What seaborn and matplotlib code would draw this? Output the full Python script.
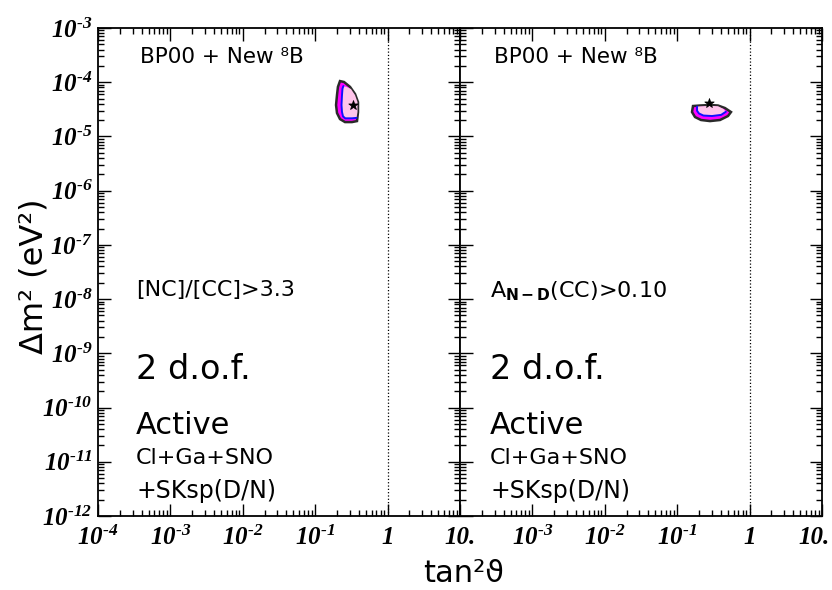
import numpy as np
import pandas as pd
import matplotlib
matplotlib.use('Agg')
import matplotlib.pyplot as plt
import matplotlib.transforms as mtrans
import seaborn as sns

# Allowed regions (tan^2 theta, dm^2 in eV^2)
# left panel: [NC]/[CC] > 3.3
left_outer_x = [0.220, 0.250, 0.303, 0.355, 0.390, 0.390, 0.378, 0.322, 0.258, 0.220, 0.200, 0.194, 0.200, 0.206]
left_outer_y = [1.05e-4, 1.01e-4, 8.2e-5, 6.05e-5, 4.3e-5, 2.8e-5, 1.92e-5, 1.84e-5, 1.84e-5, 2.09e-5, 2.7e-5, 3.8e-5, 5.8e-5, 8.2e-5]
left_inner_x = [0.2450, 0.2720, 0.3122, 0.3545, 0.3839, 0.3839, 0.3718, 0.3224, 0.2600, 0.2421, 0.2345, 0.2308, 0.2345, 0.2380]
left_inner_y = [8.5e-5, 8.2e-5, 7.49e-5, 5.80e-5, 4.31e-5, 2.82e-5, 2.2e-5, 2.16e-5, 2.16e-5, 2.35e-5, 2.82e-5, 3.8e-5, 5.80e-5, 7.6e-5]
left_blue_from = 6
left_best = (0.333, 3.8e-5)

# right panel: A_N-D(CC) > 0.10
right_outer_x = [0.1653, 0.2065, 0.2838, 0.3661, 0.4572, 0.5534, 0.5032, 0.3902, 0.2838, 0.2132, 0.1762, 0.1601]
right_outer_y = [3.64e-5, 3.72e-5, 3.80e-5, 3.72e-5, 3.34e-5, 2.82e-5, 2.38e-5, 2.01e-5, 1.92e-5, 2.01e-5, 2.28e-5, 2.82e-5]
right_inner_x = [0.1880, 0.2838, 0.3661, 0.4350, 0.4700, 0.4050, 0.3024, 0.2300, 0.2000, 0.1880]
right_inner_y = [3.56e-5, 3.67e-5, 3.61e-5, 3.22e-5, 2.85e-5, 2.50e-5, 2.38e-5, 2.43e-5, 2.65e-5, 2.98e-5]
right_blue_from = 4
right_best = (0.275, 4.13e-5)

x_ticks = [1e-4, 1e-3, 1e-2, 1e-1, 1, 10]
x_labels = ['$10^{\u2010%d}$' % k for k in (4, 3, 2, 1)] + ['1', '10.']
y_ticks = [10.0 ** k for k in range(-12, -2)]
y_labels = ['$10^{\u2010%d}$' % -k for k in range(-12, -2)]

sns.set_style('ticks')
plt.rcParams['font.family'] = ['DejaVu Sans']
plt.rcParams['text.color'] = 'black'
plt.rcParams['xtick.color'] = 'black'
plt.rcParams['ytick.color'] = 'black'
plt.rcParams['mathtext.fontset'] = 'custom'
plt.rcParams['mathtext.rm'] = 'Liberation Serif:bold:italic'
plt.rcParams['mathtext.it'] = 'Liberation Serif:bold:italic'
plt.rcParams['mathtext.bf'] = 'Liberation Serif:bold:italic'
plt.rcParams['mathtext.sf'] = 'DejaVu Sans:bold'

fig = plt.figure(figsize=(8.32, 5.90), dpi=100)
ax1 = fig.add_axes([98 / 832, 74 / 590, 362 / 832, 488 / 590])
ax2 = fig.add_axes([460 / 832, 74 / 590, 362 / 832, 488 / 590])

panels = [
    (ax1, left_outer_x, left_outer_y, left_inner_x, left_inner_y, left_blue_from,
     left_best, '[NC]/[CC]>3.3', 0.105),
    (ax2, right_outer_x, right_outer_y, right_inner_x, right_inner_y, right_blue_from,
     right_best, r'A$_{\mathsf{N-D}}$(CC)>0.10', 0.083),
]

tick_font = dict(family='Liberation Serif', style='italic', weight='bold', size=18)

for ax, ox, oy, ix, iy, k, best, cut, tx in panels:
    ax.set_xscale('log')
    ax.set_yscale('log')
    ax.set_xlim(1e-4, 10)
    ax.set_ylim(1e-12, 1e-3)

    # outer region (magenta band) with a dark rim
    ax.fill(ox, oy, facecolor='#ff00ff', edgecolor='#2a2a2a', linewidth=1.8)
    # inner region, light pink, blue boundary on the open side
    ax.fill(ix, iy, facecolor='#ffc4ea', edgecolor='none')
    ax.plot(ix[k:] + ix[:1], iy[k:] + iy[:1], color='#1010ff', linewidth=1.4)
    best_df = pd.DataFrame({'x': [best[0]], 'y': [best[1]]})
    sns.scatterplot(data=best_df, x='x', y='y', marker='*', s=50, color='black',
                    edgecolor='black', ax=ax, zorder=5)

    ax.axvline(1, color='black', linestyle=':', linewidth=0.9)

    ax.text(tx + 0.012, 0.94, 'BP00 + New \u2078B', transform=ax.transAxes, fontsize=15.5,
            va='center', ha='left')
    ax.text(tx, 0.463, cut, transform=ax.transAxes, fontsize=16,
            va='center', ha='left')
    ax.text(tx, 0.30, '2 d.o.f.', transform=ax.transAxes, fontsize=24,
            va='center', ha='left')
    ax.text(tx, 0.186, 'Active', transform=ax.transAxes, fontsize=22,
            va='center', ha='left')
    ax.text(tx, 0.118, 'Cl+Ga+SNO', transform=ax.transAxes, fontsize=16,
            va='center', ha='left')
    ax.text(tx, 0.052, '+SKsp(D/N)', transform=ax.transAxes, fontsize=17,
            va='center', ha='left')

    ax.set_xticks(x_ticks)
    ax.set_yticks(y_ticks)
    ax.tick_params(which='both', direction='in', top=True, right=True, width=1.0)
    ax.tick_params(which='major', length=9)
    ax.tick_params(which='minor', length=4.5)
    ax.tick_params(axis='x', pad=7)
    ax.tick_params(axis='y', pad=4)
    ax.xaxis.set_minor_locator(matplotlib.ticker.LogLocator(base=10, subs=np.arange(2, 10), numticks=20))
    ax.yaxis.set_minor_locator(matplotlib.ticker.LogLocator(base=10, subs=np.arange(2, 10), numticks=20))
    for sp in ax.spines.values():
        sp.set_linewidth(1.3)
        sp.set_color('black')
    ax.set_xlabel('')
    ax.set_ylabel('')

ax1.set_xticklabels(x_labels, fontdict=tick_font)
ax1.set_yticklabels(y_labels, fontdict=tick_font)
ax2.set_xticklabels([''] + x_labels[1:], fontdict=tick_font)
ax2.set_yticklabels([])

# last "10." sits on the figure edge: keep it inside
last = ax2.get_xticklabels()[-1]
last.set_transform(last.get_transform() + mtrans.ScaledTranslation(-8 / 100, 0, fig.dpi_scale_trans))

fig.text(464 / 832, 1 - 573 / 590, 'tan\u00b2\u03d1', fontsize=22, ha='center', va='center')
fig.text(34 / 832, 1 - 276 / 590, '\u0394m\u00b2 (eV\u00b2)', fontsize=23, ha='center',
         va='center', rotation=90)

fig.savefig('out.png', dpi=100)
